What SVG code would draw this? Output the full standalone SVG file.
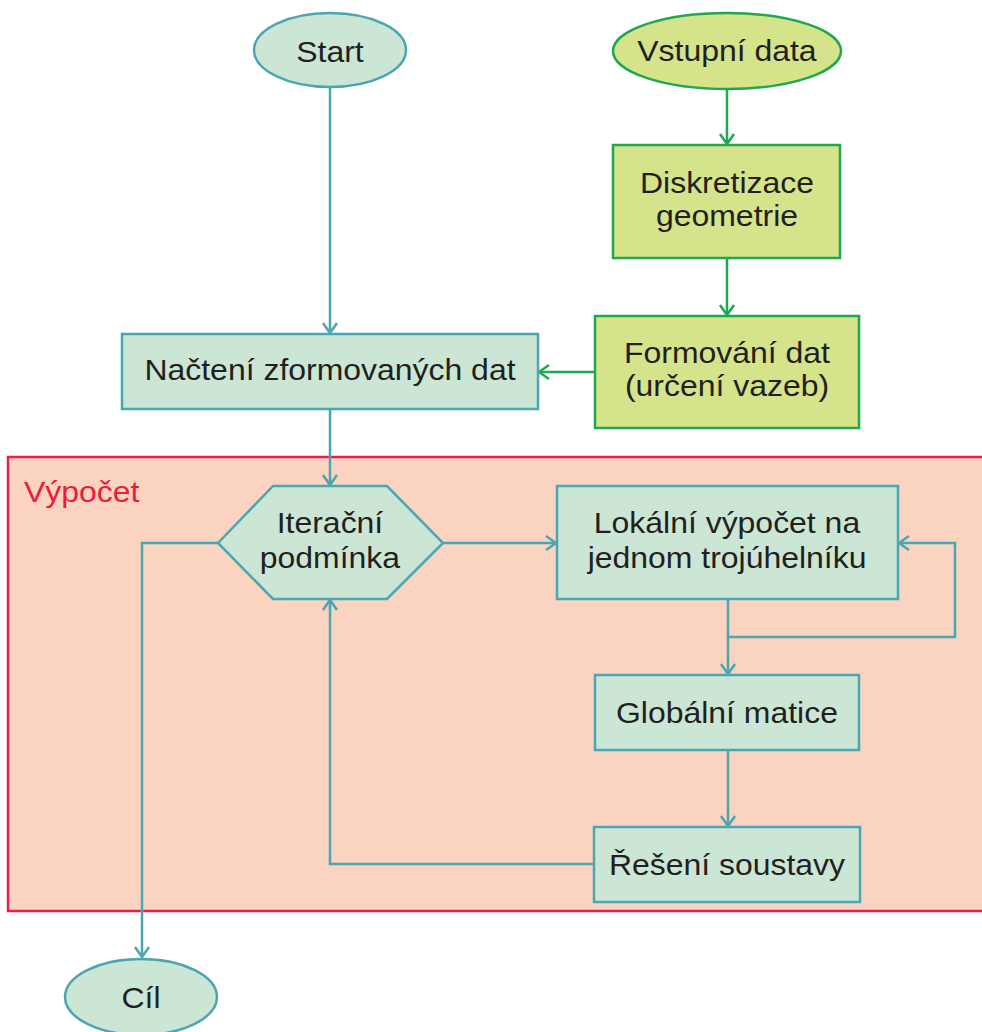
<svg xmlns="http://www.w3.org/2000/svg" width="982" height="1032" viewBox="0 0 982 1032">
  <style>
    .t { font-family: "Liberation Sans", Arial, sans-serif; font-size: 30px; fill: #231f20; text-anchor: middle;
         transform-box: fill-box; transform-origin: center; transform: scaleX(1.065); }
    .lbl { font-family: "Liberation Sans", Arial, sans-serif; font-size: 30px; fill: #ec1c3a;
           transform-box: fill-box; transform-origin: left center; transform: scaleX(1.065); }
    .teal { fill: #cce6d6; stroke: #4ba6b1; stroke-width: 2.5; }
    .green { fill: #d5e38a; stroke: #1fa84f; stroke-width: 2.5; }
    .ct { fill: none; stroke: #4ba6b1; stroke-width: 2.5; }
    .cg { fill: none; stroke: #1fa84f; stroke-width: 2.5; }
  </style>
  <defs>
    <marker id="ah-teal" markerUnits="userSpaceOnUse" markerWidth="24" markerHeight="24" viewBox="-12 -12 24 24" refX="-1" refY="0" orient="auto">
      <path d="M-10,-7 L0,0 L-10,7" fill="none" stroke="#4ba6b1" stroke-width="2.5"/>
    </marker>
    <marker id="ah-green" markerUnits="userSpaceOnUse" markerWidth="24" markerHeight="24" viewBox="-12 -12 24 24" refX="-1" refY="0" orient="auto">
      <path d="M-10,-7 L0,0 L-10,7" fill="none" stroke="#1fa84f" stroke-width="2.5"/>
    </marker>
  </defs>

  <!-- computation region -->
  <g id="vypocet">
    <rect x="8" y="457" width="980" height="454" fill="#fbd3c1" stroke="#ec1c4f" stroke-width="2.5"/>
    <text class="lbl" x="24" y="502">Výpočet</text>
  </g>

  <!-- connectors -->
  <g id="connectors">
    <path class="cg" d="M727,89 V143" marker-end="url(#ah-green)"/>
    <path class="cg" d="M727,258 V314" marker-end="url(#ah-green)"/>
    <path class="cg" d="M595,372 H540" marker-end="url(#ah-green)"/>
    <path class="ct" d="M330,88 V332" marker-end="url(#ah-teal)"/>
    <path class="ct" d="M330,409 V484" marker-end="url(#ah-teal)"/>
    <path class="ct" d="M443,543 H555" marker-end="url(#ah-teal)"/>
    <path class="ct" d="M728,599 V637 H955 V543 H900" marker-end="url(#ah-teal)"/>
    <path class="ct" d="M728,637 V673" marker-end="url(#ah-teal)"/>
    <path class="ct" d="M728,750 V825" marker-end="url(#ah-teal)"/>
    <path class="ct" d="M594,864 H330 V601" marker-end="url(#ah-teal)"/>
    <path class="ct" d="M218,543 H142 V956" marker-end="url(#ah-teal)"/>
  </g>

  <g id="start">
    <ellipse class="teal" cx="330" cy="50" rx="76" ry="37"/>
    <text class="t" x="330" y="62">Start</text>
  </g>

  <g id="vstupni-data">
    <ellipse class="green" cx="727" cy="51" rx="114" ry="38"/>
    <text class="t" x="727" y="61">Vstupní data</text>
  </g>

  <g id="diskretizace">
    <rect class="green" x="613" y="145" width="227" height="113"/>
    <text class="t" x="727" y="193">Diskretizace</text>
    <text class="t" x="727" y="226">geometrie</text>
  </g>

  <g id="formovani">
    <rect class="green" x="595" y="316" width="264" height="112"/>
    <text class="t" x="727" y="363">Formování dat</text>
    <text class="t" x="727" y="396">(určení vazeb)</text>
  </g>

  <g id="nacteni">
    <rect class="teal" x="122" y="334" width="416" height="75"/>
    <text class="t" x="330" y="380">Načtení zformovaných dat</text>
  </g>

  <g id="iteracni-podminka">
    <polygon class="teal" points="218,543 273,486 387,486 443,543 387,599 273,599"/>
    <text class="t" x="330" y="533">Iterační</text>
    <text class="t" x="330" y="568">podmínka</text>
  </g>

  <g id="lokalni-vypocet">
    <rect class="teal" x="557" y="486" width="341" height="113"/>
    <text class="t" x="727" y="533">Lokální výpočet na</text>
    <text class="t" x="727" y="568">jednom trojúhelníku</text>
  </g>

  <g id="globalni-matice">
    <rect class="teal" x="595" y="675" width="264" height="75"/>
    <text class="t" x="727" y="723">Globální matice</text>
  </g>

  <g id="reseni-soustavy">
    <rect class="teal" x="594" y="827" width="266" height="75"/>
    <text class="t" x="727" y="875">Řešení soustavy</text>
  </g>

  <g id="cil">
    <ellipse class="teal" cx="141" cy="997" rx="76" ry="38"/>
    <text class="t" x="141" y="1008">Cíl</text>
  </g>
</svg>
